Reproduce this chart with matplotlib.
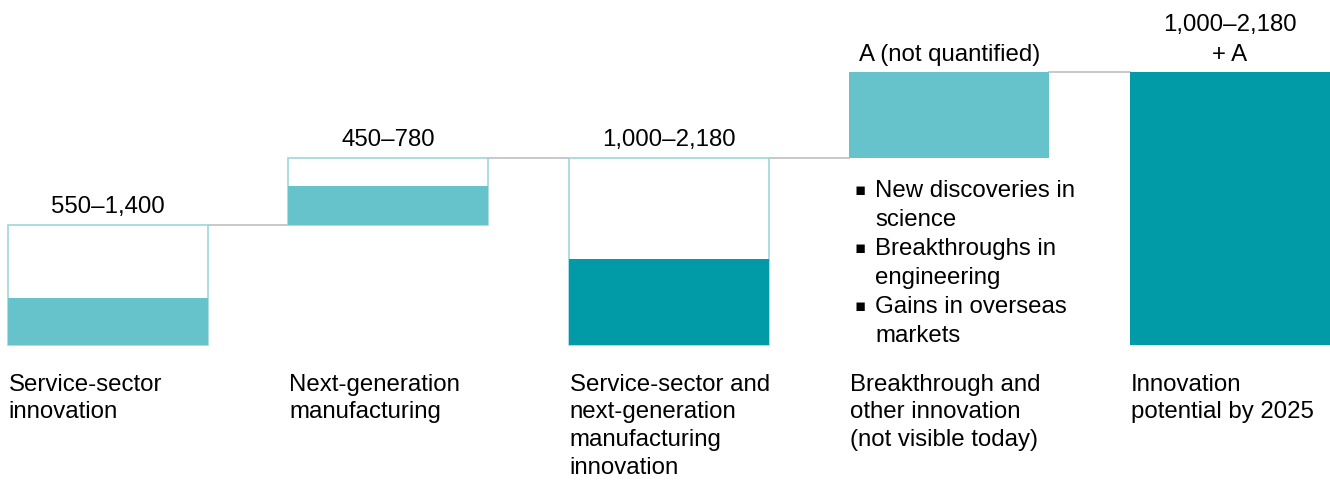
import matplotlib.pyplot as plt
import numpy as np

plt.rcParams['font.family'] = ['Liberation Sans', 'DejaVu Sans']

categories = ["Service-sector\ninnovation",
              "Next-generation\nmanufacturing",
              "Service-sector and\nnext-generation\nmanufacturing\ninnovation",
              "Breakthrough and\nother innovation\n(not visible today)",
              "Innovation\npotential by 2025"]
low = [550, 450, 1000, 1000, 3180]      # filled part
high = [1400, 780, 2180, 1000, 3180]    # outlined top
base = [0, 1400, 0, 2180, 0]
value_labels = ["550\u20131,400", "450\u2013780", "1,000\u20132,180",
                "A (not quantified)", "1,000\u20132,180\n+ A"]
bullets = ["New discoveries in\nscience", "Breakthroughs in\nengineering",
           "Gains in overseas\nmarkets"]

light = "#66C2CB"
dark = "#009BA6"
edge = "#9DD6DC"
fill_colors = [light, light, dark, light, dark]
fs = 17.3

fig = plt.figure(figsize=(13.3, 4.83), dpi=100)
ax = fig.add_axes([0, 0, 1, 1])
ax.set_xlim(-0.385, 4.357)
ax.set_ylim(-1610, 4025)
ax.axis("off")

x = np.arange(len(categories))
w = 0.713

# outlined ranges
for i in range(len(x)):
    if high[i] > low[i]:
        ax.bar(x[i], high[i], w, bottom=base[i], color="white",
               edgecolor=edge, lw=1.2, zorder=2)
    ax.bar(x[i], low[i], w, bottom=base[i], color=fill_colors[i],
           lw=0, zorder=3)

# connectors
tops = [b + h for b, h in zip(base, high)]
for i in range(len(x) - 1):
    ax.plot([x[i] + w / 2, x[i + 1] - w / 2], [tops[i], tops[i]],
            color="#BFBFBF", lw=1.2, zorder=1)

# value labels
for i in range(len(x)):
    ax.text(x[i], tops[i] + 80, value_labels[i], ha="center", va="bottom",
            fontsize=fs, linespacing=1.45)

# category labels
for i in range(len(x)):
    ax.text(x[i] - w / 2 + 0.003, -335, categories[i], ha="left", va="top",
            fontsize=fs, linespacing=1.34)

# bullets under A
step = 29 / 0.0857  # one text line in data units
y0 = 1930
xb = x[3] - w / 2
for k, b in enumerate(bullets):
    yk = y0 - 2 * k * step
    ax.text(xb + 0.092, yk, b, ha="left", va="top", fontsize=fs,
            linespacing=1.45)
    ax.text(xb + 0.038, yk - 120, "\u25aa", ha="center", va="center",
            fontsize=12, family="DejaVu Sans")

fig.savefig("out.png", dpi=100)
